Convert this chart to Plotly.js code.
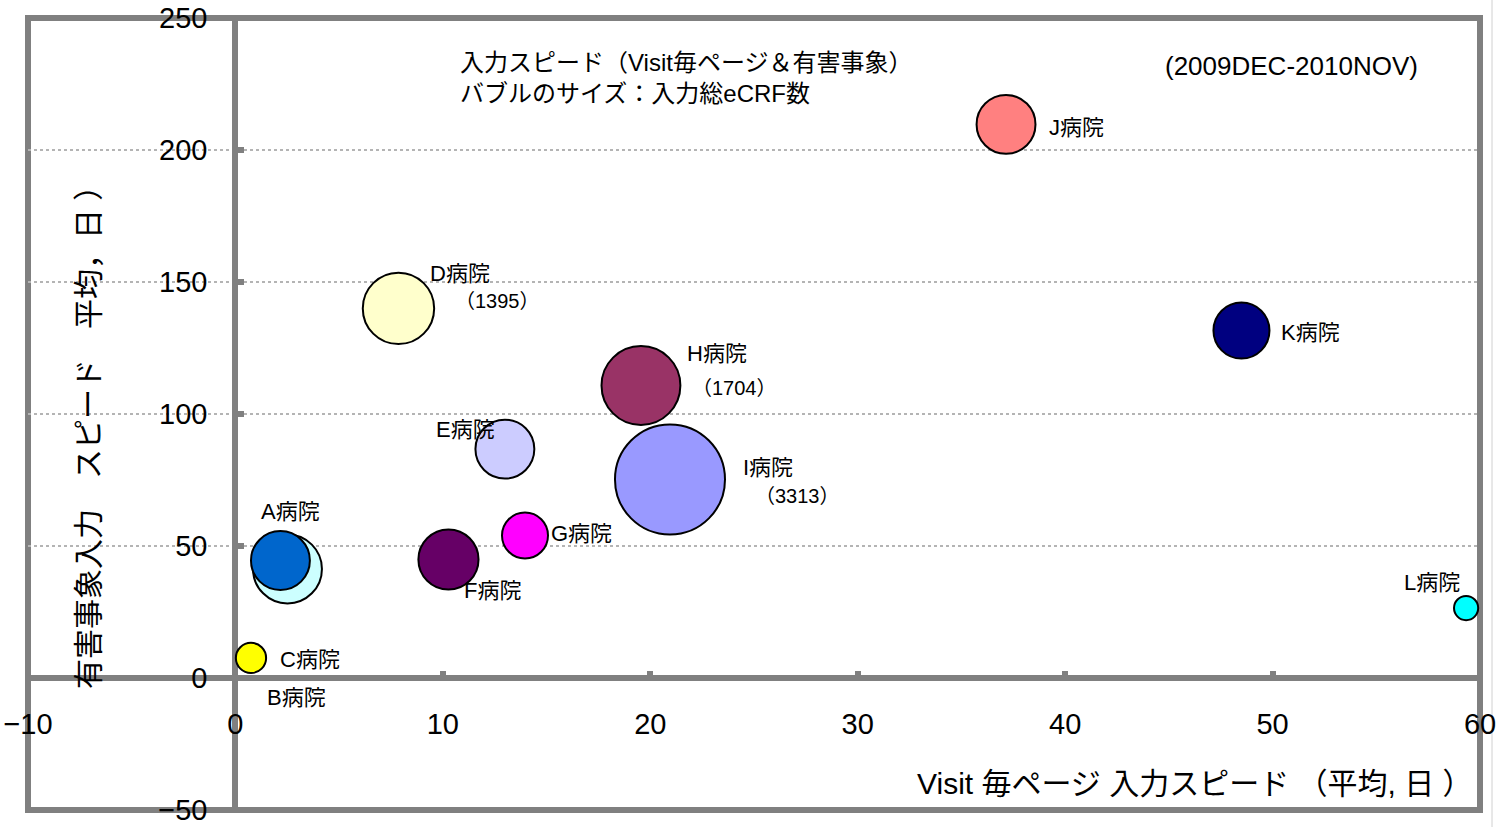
<!DOCTYPE html>
<html>
<head>
<meta charset="utf-8">
<script src="https://cdn.plot.ly/plotly-3.0.1.min.js"></script>
<style>html,body{margin:0;padding:0;background:#fff;}</style>
</head>
<body>
<div id="chart" style="width:1497px;height:827px;"></div>
<script>
// Hospitals and their average input speeds (days) with total eCRF counts
const hospitals   = ['A病院', 'B病院', 'C病院', 'D病院', 'E病院', 'F病院', 'G病院', 'H病院', 'I病院', 'J病院', 'K病院', 'L病院'];
const visitSpeed  = [2.17, 2.51, 0.75, 7.86, 12.99, 10.27, 13.96, 19.55, 20.95, 37.15, 48.5, 59.33];
const aeSpeed     = [44.5, 41.3, 7.6, 140.0, 86.7, 44.9, 54.0, 110.8, 75.2, 209.7, 131.6, 26.5];
const ecrfCount   = [950, 1300, 250, 1395, 950, 990, 580, 1704, 3313, 950, 860, 160];
const countLabelled = ['D病院', 'H病院', 'I病院'];

const xTicks = [-10, 0, 10, 20, 30, 40, 50, 60];
const yTicks = [-50, 0, 50, 100, 150, 200, 250];

const periodText = '(2009DEC-2010NOV)';
const noteLines  = ['入力スピード（Visit毎ページ＆有害事象）', 'バブルのサイズ：入力総eCRF数'];
const xTitle = 'Visit 毎ページ 入力スピード （平均, 日 ）';
const yTitle = '有害事象入力　スピード　平均，日 ）';

// styling
const bubbleColors = ['#0066CC', '#CCFFFF', '#FFFF00', '#FFFFCC', '#CCCCFF', '#660066',
                      '#FF00FF', '#993366', '#9999FF', '#FF8080', '#000080', '#00FFFF'];
// pixel offsets of the name labels from each bubble centre [dx, dy(down)]
const nameOffsets = [[10, -49], [9, 129], [59, 2], [62, -35], [-39, -20], [44, 31],
                     [56, -2], [76, -32], [98, -12], [70, 3], [69, 2], [-34, -26]];
const countOffsets = {'D病院': [99, -7], 'H病院': [94, 3], 'I病院': [128, 17]};

const FONT = '"Liberation Sans", Arial, "Noto Sans CJK JP", sans-serif';
const GRAY = '#808080';

// plot-area geometry in pixels
const M = {l: 28, r: 17, t: 18, b: 17};
const W = 1497, H = 827;
const PW = W - M.l - M.r, PH = H - M.t - M.b;
const fx = px => (px - M.l) / PW;
const fy = py => (H - M.b - py) / PH;

// larger bubbles first so smaller ones stay visible on top
const order = hospitals.map((_, i) => i).sort((a, b) => ecrfCount[b] - ecrfCount[a]);

const bubbles = {
  type: 'scatter',
  mode: 'markers',
  x: order.map(i => visitSpeed[i]),
  y: order.map(i => aeSpeed[i]),
  text: order.map(i => hospitals[i]),
  hoverinfo: 'text',
  cliponaxis: false,
  marker: {
    size: order.map(i => ecrfCount[i]),
    sizemode: 'area',
    sizeref: 0.5476,
    color: order.map(i => bubbleColors[i]),
    opacity: 1,
    line: {color: '#000000', width: 2}
  },
  showlegend: false
};

// empty trace that carries the crossing tick-label axes
const crossAxes = {type: 'scatter', x: [], y: [], xaxis: 'x2', yaxis: 'y2', showlegend: false, hoverinfo: 'skip'};

const annotations = [];
hospitals.forEach((name, i) => {
  annotations.push({
    xref: 'x', yref: 'y', x: visitSpeed[i], y: aeSpeed[i],
    xshift: nameOffsets[i][0], yshift: -nameOffsets[i][1],
    text: name, showarrow: false, xanchor: 'center', yanchor: 'middle',
    font: {family: FONT, size: 22, color: '#000'}
  });
  if (countLabelled.includes(name)) {
    const off = countOffsets[name];
    annotations.push({
      xref: 'x', yref: 'y', x: visitSpeed[i], y: aeSpeed[i],
      xshift: off[0], yshift: -off[1],
      text: '（' + ecrfCount[i] + '）', showarrow: false, xanchor: 'center', yanchor: 'middle',
      font: {family: FONT, size: 20, color: '#000'}
    });
  }
});

annotations.push(
  {xref: 'paper', yref: 'paper', x: fx(458), y: fy(62), text: noteLines[0], showarrow: false,
   xanchor: 'left', yanchor: 'middle', font: {family: FONT, size: 24, color: '#000'}},
  {xref: 'paper', yref: 'paper', x: fx(458), y: fy(94), text: noteLines[1], showarrow: false,
   xanchor: 'left', yanchor: 'middle', font: {family: FONT, size: 24, color: '#000'}},
  {xref: 'paper', yref: 'paper', x: fx(1291), y: fy(66), text: periodText, showarrow: false,
   xanchor: 'center', yanchor: 'middle', font: {family: FONT, size: 26, color: '#000'}},
  {xref: 'paper', yref: 'paper', x: fx(1475), y: fy(783), text: xTitle, showarrow: false,
   xanchor: 'right', yanchor: 'middle', font: {family: FONT, size: 30, color: '#000'}},
  {xref: 'paper', yref: 'paper', x: fx(88), y: fy(430), text: yTitle, showarrow: false, textangle: -90,
   xanchor: 'center', yanchor: 'middle', font: {family: FONT, size: 30, color: '#000'}}
);

const layout = {
  width: W, height: H,
  margin: M,
  paper_bgcolor: '#ffffff',
  plot_bgcolor: 'rgba(0,0,0,0)',
  showlegend: false,
  xaxis: {
    range: [-10, 60], showgrid: false, showticklabels: false, ticks: '',
    zeroline: true, zerolinecolor: GRAY, zerolinewidth: 6, showline: false, fixedrange: true
  },
  yaxis: {
    range: [-50, 250], tickvals: yTicks, showticklabels: false, ticks: '',
    showgrid: true, gridcolor: '#b4b4b4', gridwidth: 1.5, griddash: 'dot',
    zeroline: true, zerolinecolor: GRAY, zerolinewidth: 6, showline: false, fixedrange: true
  },
  xaxis2: {
    overlaying: 'x', anchor: 'free', position: fy(677.5), side: 'bottom',
    range: [-10, 60], tickvals: xTicks, ticks: 'inside', ticklen: 7, tickwidth: 6, tickcolor: GRAY,
    showgrid: false, zeroline: false, showline: false,
    ticklabelstandoff: 26,
    tickfont: {family: FONT, size: 29, color: '#000'}, fixedrange: true
  },
  yaxis2: {
    overlaying: 'y', anchor: 'free', position: fx(235.5), side: 'left',
    range: [-50, 250], tickvals: yTicks, ticks: 'inside', ticklen: 7, tickwidth: 6, tickcolor: GRAY,
    showgrid: false, zeroline: false, showline: false,
    ticklabelstandoff: 28,
    tickfont: {family: FONT, size: 29, color: '#000'}, fixedrange: true
  },
  shapes: [
    {type: 'rect', xref: 'paper', yref: 'paper', x0: 0, x1: 1, y0: 0, y1: 1,
     line: {color: GRAY, width: 6}, fillcolor: 'rgba(0,0,0,0)', layer: 'below'},
    {type: 'line', xref: 'paper', yref: 'paper', x0: fx(1492), x1: fx(1492), y0: fy(0), y1: fy(827),
     line: {color: '#d0d0d0', width: 1}, layer: 'below'}
  ],
  annotations: annotations
};

Plotly.newPlot('chart', [bubbles, crossAxes], layout, {displayModeBar: false, staticPlot: true});
</script>
</body>
</html>
